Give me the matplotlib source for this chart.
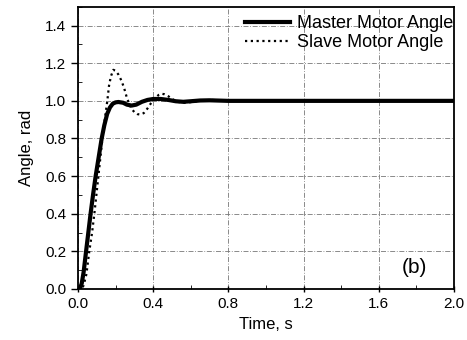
import matplotlib
matplotlib.use('Agg')
import matplotlib.pyplot as plt
import numpy as np
from matplotlib.ticker import MultipleLocator

plt.rcParams['font.family'] = ['Liberation Sans', 'DejaVu Sans']

# Values
t_master = [0.0, 0.01, 0.02, 0.03, 0.043, 0.055, 0.067, 0.08, 0.094, 0.11, 0.126, 0.14,
            0.155, 0.17, 0.185, 0.2, 0.215, 0.24, 0.26, 0.285, 0.31, 0.34, 0.37, 0.4,
            0.44, 0.48, 0.52, 0.56, 0.6, 0.65, 0.7, 0.8, 1.0, 1.4, 2.0]
y_master = [0.0, 0.0, 0.03, 0.09, 0.2, 0.3, 0.4, 0.5, 0.6, 0.7, 0.8, 0.87,
            0.93, 0.965, 0.985, 0.992, 0.994, 0.99, 0.98, 0.975, 0.98, 0.995, 1.005, 1.01,
            1.01, 1.005, 0.998, 0.995, 0.998, 1.002, 1.003, 1.0, 1.0, 1.0, 1.0]

t_slave = [0.0, 0.02, 0.03, 0.045, 0.06, 0.075, 0.087, 0.1, 0.115, 0.13, 0.145, 0.156,
           0.165, 0.175, 0.188, 0.2, 0.215, 0.23, 0.245, 0.259, 0.272, 0.285, 0.3, 0.315,
           0.33, 0.35, 0.37, 0.39, 0.41, 0.43, 0.445, 0.46, 0.48, 0.5, 0.53, 0.56, 0.58,
           0.61, 0.65, 0.7, 0.8, 1.0, 1.4, 2.0]
y_slave = [0.0, 0.0, 0.02, 0.08, 0.2, 0.3, 0.4, 0.52, 0.66, 0.8, 0.92, 1.0,
           1.08, 1.13, 1.165, 1.16, 1.14, 1.11, 1.07, 1.02, 0.985, 0.958, 0.94, 0.93,
           0.927, 0.935, 0.96, 0.99, 1.015, 1.032, 1.038, 1.035, 1.025, 1.01, 0.995, 0.99, 0.99,
           0.995, 1.0, 1.005, 1.002, 1.0, 1.0, 1.0]

x_ticks = [0.0, 0.4, 0.8, 1.2, 1.6, 2.0]
y_ticks = [0.0, 0.2, 0.4, 0.6, 0.8, 1.0, 1.2, 1.4]

fig = plt.figure(figsize=(4.67, 3.4), dpi=100)
ax = fig.add_axes([0.167, 0.15, 0.805, 0.83])

ax.plot(t_master, y_master, color='black', linewidth=3.0, label='Master Motor Angle')
ax.plot(t_slave, y_slave, color='black', linewidth=1.6, linestyle=(0, (1, 1.6)),
        label='Slave Motor Angle')

ax.set_xlim(0, 2.0)
ax.set_ylim(0, 1.5)
ax.set_xticks(x_ticks)
ax.set_yticks(y_ticks)
ax.set_xticklabels([f'{v:.1f}' for v in x_ticks])
ax.set_yticklabels([f'{v:.1f}' for v in y_ticks])
ax.xaxis.set_minor_locator(MultipleLocator(0.2))
ax.yaxis.set_minor_locator(MultipleLocator(0.1))
ax.tick_params(axis='both', which='major', labelsize=11, length=5, width=1)
ax.tick_params(axis='x', which='major', direction='inout')
ax.tick_params(axis='both', which='minor', direction='in', length=3)
ax.tick_params(axis='y', which='major', direction='out')

ax.grid(True, which='major', color='#777777', linestyle=(0, (6, 2, 1, 2)), linewidth=0.6)

for sp in ax.spines.values():
    sp.set_linewidth(1.3)

ax.set_xlabel('Time, s', fontsize=12, labelpad=4)
ax.set_ylabel('Angle, rad', fontsize=12, labelpad=8)

ax.legend(loc='upper right', bbox_to_anchor=(1.025, 1.005), frameon=False, fontsize=13,
          handlelength=2.5, handletextpad=0.4, borderaxespad=0.15, labelspacing=0.1)
ax.text(1.79, 0.115, '(b)', fontsize=15, ha='center', va='center')

fig.savefig('out.png', dpi=100)
